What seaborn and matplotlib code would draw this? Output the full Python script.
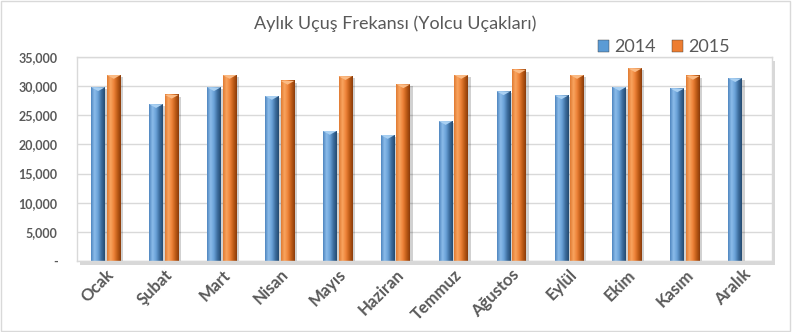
import numpy as np
import pandas as pd
import matplotlib
matplotlib.use("Agg")
import matplotlib.pyplot as plt
import seaborn as sns
from matplotlib.colors import LinearSegmentedColormap
from matplotlib.patches import Rectangle, Polygon
from matplotlib.ticker import FuncFormatter

months = ["Ocak", "Şubat", "Mart", "Nisan", "Mayıs", "Haziran",
          "Temmuz", "Ağustos", "Eylül", "Ekim", "Kasım", "Aralık"]
vals_2014 = [29800, 26900, 29800, 28300, 22300, 21600, 24000, 29100, 28400, 29850, 29600, 31350]
vals_2015 = [31900, 28500, 31900, 30900, 31700, 30300, 31900, 32800, 31900, 33050, 31750, np.nan]
years = ["2014", "2015"]
title = "Aylık Uçuş Frekansı (Yolcu Uçakları)"

df = pd.DataFrame({
    "Ay": months * 2,
    "Yıl": [years[0]] * 12 + [years[1]] * 12,
    "Uçuş": vals_2014 + vals_2015,
})

sns.set_theme(style="white")
plt.rcParams["font.family"] = ["Lato", "DejaVu Sans"]
txt = "#595959"

fig = plt.figure(figsize=(7.92, 3.32), dpi=100)
ax = fig.add_axes([0.0972, 0.2139, 0.8775, 0.6145])

palette = {"2014": "#5B9BD5", "2015": "#ED7D31"}
sns.barplot(data=df, x="Ay", y="Uçuş", hue="Yıl", order=months, hue_order=years,
            palette=palette, width=0.54, gap=0.12, ax=ax, legend=False,
            edgecolor="none", linewidth=0, zorder=3)

cmap_list = [
    LinearSegmentedColormap.from_list("b", ["#4f86bf", "#8cbcea", "#6aa2d8", "#3d6e9f", "#244a70"]),
    LinearSegmentedColormap.from_list("o", ["#e07a32", "#f9a560", "#ee8238", "#bf5c17", "#8a3c0a"]),
]
bevel = ["#a9d0f2", "#fbbb85"]
grad = np.linspace(0, 1, 64).reshape(1, -1)
for ci, cont in enumerate(ax.containers):
    cm = cmap_list[ci]
    for p in cont.patches:
        h = p.get_height()
        p.set_visible(False)
        if not np.isfinite(h) or h <= 0:
            continue
        x, w = p.get_x(), p.get_width()
        ax.add_patch(Rectangle((x + w * 0.18, 0), w, h - 300, facecolor="#000000",
                               alpha=0.18, edgecolor="none", zorder=2))
        ax.imshow(grad, extent=[x, x + w, 0, h], aspect="auto", cmap=cm, zorder=4,
                  interpolation="bilinear")
        ax.add_patch(Polygon([[x, h], [x + w, h], [x + w / 2, h - 650]], closed=True,
                             facecolor=bevel[ci], edgecolor="none", zorder=5))

ax.set_xlim(-0.5, 11.5)
ax.set_ylim(0, 35000)
ax.set_yticks(np.arange(0, 35001, 5000))
ax.yaxis.set_major_formatter(FuncFormatter(lambda v, _: "-" if v == 0 else f"{int(v):,}"))
ax.grid(axis="y", color="#d9d9d9", linewidth=1, zorder=0)
ax.set_axisbelow(True)
ax.set_xlabel("")
ax.set_ylabel("")
ax.tick_params(axis="y", length=0, pad=14, labelsize=9, labelcolor=txt)
ax.tick_params(axis="x", length=0, pad=4)
for lab in ax.get_xticklabels():
    lab.set_rotation(45)
    lab.set_ha("right")
    lab.set_rotation_mode("anchor")
    lab.set_fontsize(12)
    lab.set_fontweight("bold")
    lab.set_color(txt)
for lab in ax.get_yticklabels():
    lab.set_fontweight("bold")
for s in ax.spines.values():
    s.set_color("#d9d9d9")
    s.set_linewidth(1)
    s.set_zorder(6)

pos = ax.get_position()
fig.patches.append(Rectangle((pos.x0 + 0.004, pos.y0 - 0.012), pos.width, pos.height,
                             transform=fig.transFigure, facecolor="#bfbfbf",
                             edgecolor="none", alpha=0.6, zorder=0))
ax.set_zorder(1)

fig.patches.append(Rectangle((0.001, 0.002), 0.997, 0.995, transform=fig.transFigure,
                             facecolor="none", edgecolor="#d9d9d9", linewidth=1, zorder=10))

fig.text(0.499, 0.93, title, ha="center", va="center", fontsize=13, color=txt)

handles = [Rectangle((0, 0), 1, 1, facecolor=palette[y], edgecolor="#3a3a3a", linewidth=0.3) for y in years]
fig.legend(handles, years, loc="center", bbox_to_anchor=(0.838, 0.858), ncol=2, frameon=False,
           fontsize=13, handlelength=0.6, handleheight=0.6, handletextpad=0.3, columnspacing=0.9,
           labelcolor=txt)

fig.savefig("out.png", dpi=100, facecolor="white")
